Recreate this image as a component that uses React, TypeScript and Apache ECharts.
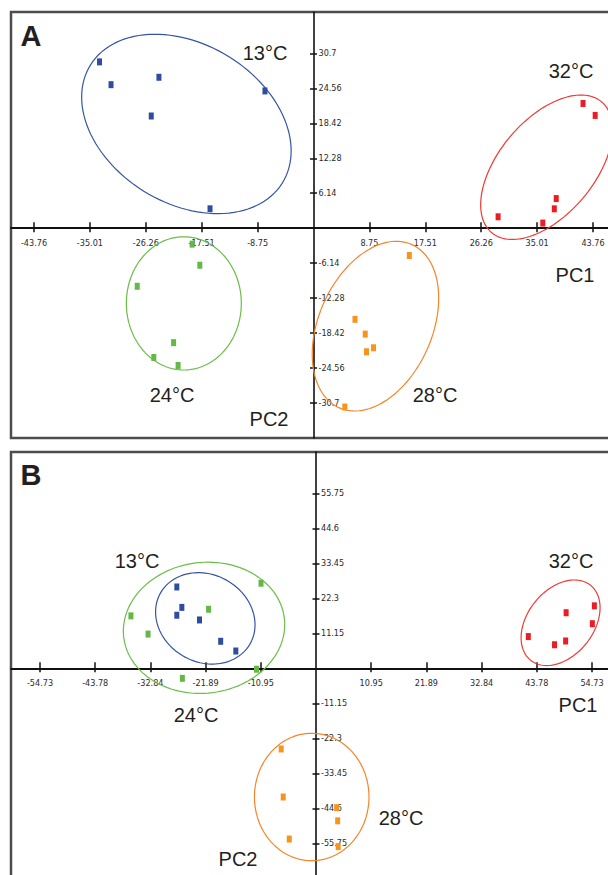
import React, { useEffect, useRef } from 'react';
import * as echarts from 'echarts';

const groups = ['13°C', '24°C', '28°C', '32°C'];
const pointColors = ['#2e4da0', '#63b846', '#f7941d', '#ed1c24'];
const ellipseColors = ['#3653a6', '#6cbd4a', '#f5852a', '#ee3a33'];

// Panel A scores (PC1, PC2)
const a13 = [[-33.5, 29.2], [-31.7, 25.2], [-24.2, 26.5], [-25.4, 19.7], [-7.6, 24.1], [-16.2, 3.4]];
const a24 = [[-19.0, -2.8], [-17.8, -6.5], [-27.6, -10.2], [-21.9, -20.1], [-25.0, -22.7], [-21.2, -24.1]];
const a28 = [[15.0, -4.8], [6.5, -16.0], [8.1, -18.6], [9.4, -21.0], [8.3, -21.7], [4.9, -31.4]];
const a32 = [[42.2, 21.9], [44.1, 19.8], [38.0, 5.2], [37.7, 3.4], [28.9, 2.0], [35.9, 0.9]];

// Panel B scores (PC1, PC2)
const b13 = [[-27.6, 25.9], [-26.6, 19.4], [-27.6, 16.9], [-23.1, 15.4], [-18.9, 8.6], [-15.9, 5.5]];
const b24 = [[-10.9, 27.1], [-36.7, 16.7], [-21.3, 18.8], [-33.3, 10.9], [-11.8, -0.3], [-26.5, -3.2]];
const b28 = [[-6.9, -25.7], [-6.5, -41.0], [-5.3, -54.4], [4.1, -44.4], [4.3, -48.6], [4.4, -56.8]];
const b32 = [[55.2, 19.9], [49.6, 17.7], [54.8, 14.2], [42.1, 10.1], [49.5, 8.7], [47.3, 7.5]];

// Confidence ellipses: [centre PC1, centre PC2, half-extent PC1, half-extent PC2, correlation]
const ellA = [
  [-19.9, 18.3, 16.4, 15.75, -0.3],
  [-20.3, -13.2, 9.0, 11.7, 0.0],
  [9.7, -17.2, 9.9, 14.9, 0.33],
  [36.5, 10.7, 10.33, 12.68, 0.52],
];
const ellB = [
  [-21.95, 15.9, 9.86, 14.56, -0.14],
  [-22.2, 12.9, 16.0, 20.9, 0.05],
  [-0.85, -41.0, 11.36, 20.3, 0.0],
  [48.5, 14.5, 7.83, 13.63, 0.35],
];

// Tick labels
const ticksAX = [-43.76, -35.01, -26.26, -17.51, -8.75, 8.75, 17.51, 26.26, 35.01, 43.76];
const ticksAY = [-30.7, -24.56, -18.42, -12.28, -6.14, 6.14, 12.28, 18.42, 24.56, 30.7];
const ticksBX = [-54.73, -43.78, -32.84, -21.89, -10.95, 10.95, 21.89, 32.84, 43.78, 54.73];
const ticksBY = [-55.75, -44.6, -33.45, -22.3, -11.15, 11.15, 22.3, 33.45, 44.6, 55.75];

const rangeA = { xMin: -47.36, xMax: 46.42, yMin: -36.84, yMax: 37.96 };
const rangeB = { xMin: -60.48, xMax: 58.3, yMin: -68.08, yMax: 68.9 };

const gridA = { left: 11, top: 12, width: 599, height: 426 };
const gridB = { left: 11, top: 452, width: 599, height: 430 };

const tickFont = "'Liberation Sans Narrow', 'DejaVu Sans Condensed', 'Arial Narrow', sans-serif";
const mainFont = "'Liberation Sans', Arial, Helvetica, sans-serif";
const ink = '#111111';

function axesFor(gridIndex: number, r: any, g: any, tx: number[], ty: number[]) {
  const lineStyle = { color: ink, width: 1.5 };
  // distances from each grid edge to the zero line, so the axes cross at the origin
  const fromBottom = (-r.yMin) / (r.yMax - r.yMin) * g.height;
  const fromTop = g.height - fromBottom;
  const fromLeft = (-r.xMin) / (r.xMax - r.xMin) * g.width;
  const fromRight = g.width - fromLeft;
  const xAxis = [
    {
      type: 'value', gridIndex, min: r.xMin, max: r.xMax, position: 'bottom', offset: -fromBottom,
      axisLine: { show: true, onZero: false, lineStyle: { color: ink, width: 2 } },
      axisTick: { show: true, inside: false, length: 4, customValues: tx, lineStyle },
      axisLabel: { show: true, customValues: tx, margin: 10, fontSize: 9, fontFamily: tickFont, color: '#2b2b2b' },
      splitLine: { show: false },
    },
    {
      type: 'value', gridIndex, min: r.xMin, max: r.xMax, position: 'top', offset: -fromTop,
      axisLine: { show: false, onZero: false },
      axisTick: { show: true, inside: false, length: 6, customValues: tx, lineStyle },
      axisLabel: { show: false },
      splitLine: { show: false },
    },
  ];
  const yAxis = [
    {
      type: 'value', gridIndex, min: r.yMin, max: r.yMax, position: 'left', offset: -fromLeft,
      axisLine: { show: true, onZero: false, lineStyle: { color: ink, width: 1.6 } },
      axisTick: { show: true, inside: false, length: 3.5, customValues: ty, lineStyle },
      axisLabel: { show: true, inside: true, customValues: ty, margin: 5, fontSize: 9, fontFamily: tickFont, color: '#2b2b2b' },
      splitLine: { show: false },
    },
    {
      type: 'value', gridIndex, min: r.yMin, max: r.yMax, position: 'right', offset: -fromRight,
      axisLine: { show: false, onZero: false },
      axisTick: { show: true, inside: false, length: 3.5, customValues: ty, lineStyle },
      axisLabel: { show: false },
      splitLine: { show: false },
    },
  ];
  return { xAxis, yAxis };
}

function scatterSeries(data: number[][], gi: number, xi: number, yi: number) {
  return {
    type: 'scatter', name: groups[gi], xAxisIndex: xi, yAxisIndex: yi,
    symbol: 'rect', symbolSize: [5, 7], z: 5,
    itemStyle: { color: pointColors[gi], opacity: 1 },
    data,
  };
}

function ellipseSeries(e: number[], gi: number, xi: number, yi: number) {
  const color = ellipseColors[gi];
  return {
    type: 'custom', xAxisIndex: xi, yAxisIndex: yi, z: 4, clip: false,
    data: [e],
    renderItem: (params: any, api: any) => {
      const cx = api.value(0), cy = api.value(1), rx = api.value(2), ry = api.value(3), rho = api.value(4);
      const s = Math.sqrt(1 - rho * rho);
      const pts: number[][] = [];
      for (let i = 0; i <= 120; i++) {
        const t = (i / 120) * Math.PI * 2;
        pts.push(api.coord([cx + rx * Math.cos(t), cy + ry * (rho * Math.cos(t) + s * Math.sin(t))]));
      }
      return { type: 'polygon', shape: { points: pts }, style: { fill: 'none', stroke: color, lineWidth: 1.2 } };
    },
  };
}

function label(text: string, x: number, y: number, size = 20, bold = false) {
  return {
    type: 'text', x, y, z: 10,
    style: {
      text, fill: '#231f20', font: `${bold ? 'bold ' : ''}${size}px ${mainFont}`,
      textAlign: 'center', textVerticalAlign: 'middle',
    },
  };
}

export default function App() {
  const ref = useRef<HTMLDivElement>(null);
  useEffect(() => {
    if (!ref.current) return;
    const chart = echarts.init(ref.current, undefined, { renderer: 'svg' });
    const A = axesFor(0, rangeA, gridA, ticksAX, ticksAY);
    const B = axesFor(1, rangeB, gridB, ticksBX, ticksBY);
    const dataA = [a13, a24, a28, a32];
    const dataB = [b13, b24, b28, b32];
    const series: any[] = [];
    dataA.forEach((d, gi) => {
      series.push(ellipseSeries(ellA[gi], gi, 0, 0));
      series.push(scatterSeries(d, gi, 0, 0));
    });
    dataB.forEach((d, gi) => {
      series.push(ellipseSeries(ellB[gi], gi, 2, 2));
      series.push(scatterSeries(d, gi, 2, 2));
    });
    const gridStyle = { show: true, borderColor: '#4d4d4d', borderWidth: 2.5, backgroundColor: 'transparent', containLabel: false, outerBoundsMode: 'none' };
    chart.setOption({
      animation: false,
      backgroundColor: '#ffffff',
      grid: [
        { ...gridA, ...gridStyle },
        { ...gridB, ...gridStyle },
      ],
      xAxis: [...A.xAxis, ...B.xAxis],
      yAxis: [...A.yAxis, ...B.yAxis],
      series,
      graphic: [
        label('A', 31, 36, 29, true),
        label('13°C', 265, 53),
        label('32°C', 571, 71),
        label('24°C', 172, 395),
        label('28°C', 435, 395),
        label('PC1', 575, 275),
        label('PC2', 269, 419),
        label('B', 31, 475, 29, true),
        label('13°C', 137, 561),
        label('32°C', 571, 561),
        label('24°C', 196, 715),
        label('28°C', 401, 818),
        label('PC1', 578, 705),
        label('PC2', 238, 859),
      ],
    });
    return () => chart.dispose();
  }, []);
  return <div ref={ref} style={{ position: 'absolute', left: 0, top: 0, width: 608, height: 875 }} />;
}
